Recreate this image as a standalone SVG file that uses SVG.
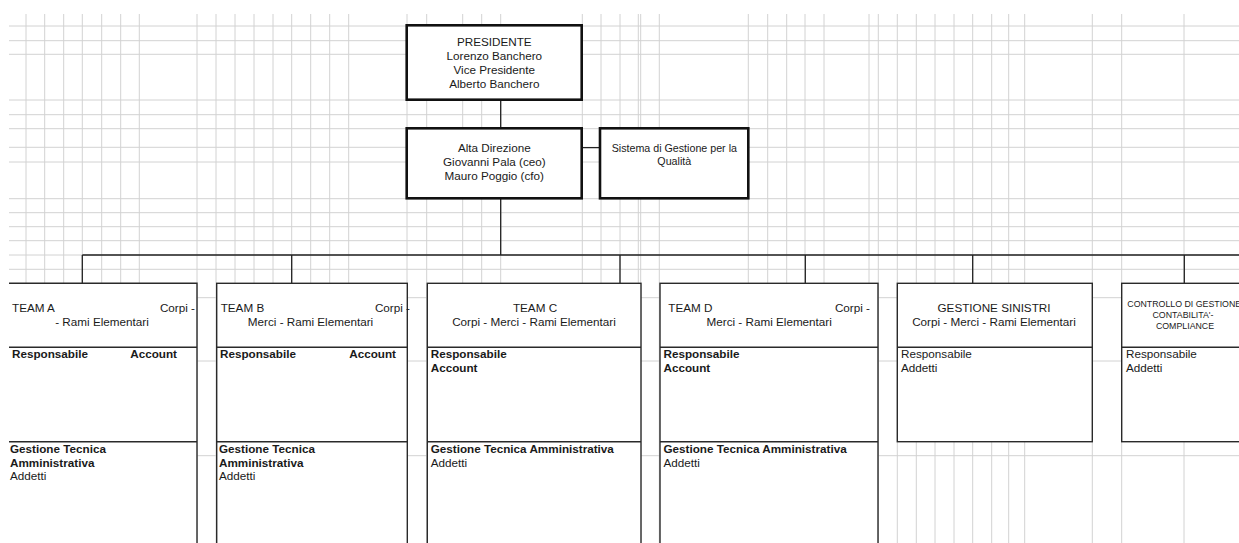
<svg xmlns="http://www.w3.org/2000/svg" width="1239" height="543" viewBox="0 0 1239 543">
<style>
.grid{stroke:#d2d2d2;stroke-width:1;fill:none}
.box{fill:#fff;stroke:#2a2a2a;stroke-width:1.4}
.top{fill:#fff;stroke:#111;stroke-width:2.6}
.div{stroke:#2a2a2a;stroke-width:1.4;fill:none}
.con{stroke:#222;stroke-width:1.3;fill:none}
text{font-family:"Liberation Sans",Arial,Helvetica,sans-serif;font-size:11.7px;fill:#1a1a1a}
.c{text-anchor:middle}
.e{text-anchor:end}
.b{font-weight:bold}
.s{font-size:10.7px}
.xs{font-size:8.8px}
</style>
<rect width="1239" height="543" fill="#fff"/>
<g id="grid">
<path class="grid" d="M26,14V543M44.7,14V543M63.7,14V543M82.3,14V543M101.7,14V543M120.7,14V543M139.3,14V543M197,14V543M216,14V543M235,14V543M254,14V543M273,14V543M291.7,14V543M310.7,14V543M329.7,14V543M348.7,14V543M407,14V543M426.7,14V543M462.7,14V543M481.7,14V543M500.7,14V543M582.3,14V543M601,14V543M620,14V543M638.3,14V543M640.7,14V543M659.3,14V543M748.3,14V543M767.7,14V543M786.7,14V543M805,14V543M824,14V543M869,14V543M878.3,14V543M897.3,14V543M916.3,14V543M935,14V543M954,14V543M972.7,14V543M991.7,14V543M1008.7,14V543M1024.7,14V543M1092.3,14V543M1121.7,14V543M1184,14V543"/>
<path class="grid" d="M9,26H1239M9,40.7H1239M9,54.3H1239M9,100H1239M9,114.7H1239M9,128.7H1239M9,147.3H1239M9,162H1239M9,198.7H1239M9,212.7H1239M9,226.7H1239M9,240.7H1239M9,255H1239M9,269.3H1239M9,297.7H1239M9,361H1239M9,455.7H1239"/>
</g>
<g id="connectors">
<path class="con" d="M500.7,99.7V128.3M581.7,147.7H600M500.7,198.3V255M82.3,255H1239M82.3,255V283.3M291.7,255V283.3M620,255V283.3M805.3,255V283.3M972.7,255V283.3M1184.3,255V283.3"/>
</g>
<g id="presidente">
<rect class="top" x="406.7" y="25.3" width="175" height="74.4"/>
<text class="c" x="494.3" y="46">PRESIDENTE</text>
<text class="c" x="494.3" y="60">Lorenzo Banchero</text>
<text class="c" x="494.3" y="74">Vice Presidente</text>
<text class="c" x="494.3" y="88">Alberto Banchero</text>
</g>
<g id="alta-direzione">
<rect class="top" x="406.7" y="128.3" width="175" height="70"/>
<text class="c" x="494.3" y="152">Alta Direzione</text>
<text class="c" x="494.3" y="166">Giovanni Pala (ceo)</text>
<text class="c" x="494.3" y="180">Mauro Poggio (cfo)</text>
</g>
<g id="sistema-qualita">
<rect class="top" x="600" y="128.3" width="148.3" height="70"/>
<text class="c s" x="674.3" y="152">Sistema di Gestione per la</text>
<text class="c s" x="674.3" y="165">Qualità</text>
</g>
<g id="team-a">
<rect x="9" y="283.3" width="188" height="265" fill="#fff"/>
<path class="div" d="M9,283.3H197V550M9,347.3H197M9,441.7H197"/>
<text x="12" y="312">TEAM A</text>
<text class="e" x="195" y="312">Corpi -</text>
<text class="c" x="102" y="326">- Rami Elementari</text>
<text class="b" x="12" y="358">Responsabile</text>
<text class="b e" x="177" y="358">Account</text>
<text class="b" x="10" y="453">Gestione Tecnica</text>
<text class="b" x="10" y="466.5">Amministrativa</text>
<text x="10" y="480">Addetti</text>
</g>
<g id="team-b">
<rect class="box" x="216.7" y="283.3" width="190.6" height="270"/>
<path class="div" d="M216.7,347.3H407.3M216.7,441.7H407.3"/>
<text x="220.7" y="312">TEAM B</text>
<text class="e" x="410" y="312">Corpi -</text>
<text class="c" x="310.5" y="326">Merci - Rami Elementari</text>
<text class="b" x="220" y="358">Responsabile</text>
<text class="b e" x="396" y="358">Account</text>
<text class="b" x="219" y="453">Gestione Tecnica</text>
<text class="b" x="219" y="466.5">Amministrativa</text>
<text x="219" y="480">Addetti</text>
</g>
<g id="team-c">
<rect class="box" x="427.3" y="283.3" width="213.7" height="270"/>
<path class="div" d="M427.3,347.3H641M427.3,441.7H641"/>
<text class="c" x="535" y="312">TEAM C</text>
<text class="c" x="534" y="326">Corpi - Merci - Rami Elementari</text>
<text class="b" x="430.7" y="358">Responsabile</text>
<text class="b" x="430.7" y="372">Account</text>
<text class="b" x="430.7" y="453">Gestione Tecnica Amministrativa</text>
<text x="430.7" y="466.5">Addetti</text>
</g>
<g id="team-d">
<rect class="box" x="660" y="283.3" width="218" height="270"/>
<path class="div" d="M660,347.3H878M660,441.7H878"/>
<text x="668.3" y="312">TEAM D</text>
<text class="e" x="870" y="312">Corpi -</text>
<text class="c" x="769.2" y="326">Merci - Rami Elementari</text>
<text class="b" x="663.5" y="358">Responsabile</text>
<text class="b" x="663.5" y="372">Account</text>
<text class="b" x="663.5" y="453">Gestione Tecnica Amministrativa</text>
<text x="663.5" y="466.5">Addetti</text>
</g>
<g id="gestione-sinistri">
<rect class="box" x="897.3" y="283.3" width="195" height="158.4"/>
<path class="div" d="M897.3,347.3H1092.3"/>
<text class="c" x="994" y="312">GESTIONE SINISTRI</text>
<text class="c" x="994" y="326">Corpi - Merci - Rami Elementari</text>
<text x="901" y="358">Responsabile</text>
<text x="901" y="372">Addetti</text>
</g>
<g id="controllo-gestione">
<rect class="box" x="1121.7" y="283.3" width="140" height="158.4"/>
<path class="div" d="M1121.7,347.3H1262"/>
<text class="xs" x="1127.3" y="307.3">CONTROLLO DI GESTIONE</text>
<text class="xs c" x="1183" y="318.3">CONTABILITA'-</text>
<text class="xs c" x="1185" y="329">COMPLIANCE</text>
<text x="1126" y="358">Responsabile</text>
<text x="1126" y="372">Addetti</text>
</g>
</svg>
